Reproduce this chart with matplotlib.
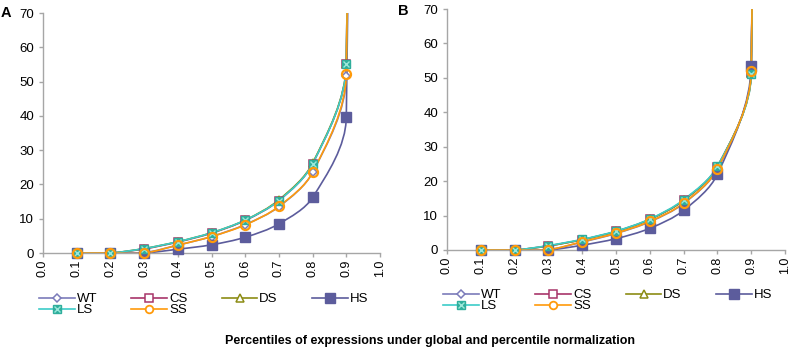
import numpy as np
import matplotlib
matplotlib.use("Agg")
import matplotlib.pyplot as plt
from matplotlib.path import Path
from matplotlib.patches import PathPatch
from matplotlib.lines import Line2D
from matplotlib.legend_handler import HandlerTuple

# percentiles (last point is far above the 0-70 window)
pct = [0.1, 0.2, 0.3, 0.4, 0.5, 0.6, 0.7, 0.8, 0.9, 1.0]

# panel A - global normalization
a_wt = [0, 0, 0.1, 2.3, 4.8, 8.3, 13.5, 23.5, 51.5, 1500]
a_cs = [0, 0, 1.2, 3.2, 5.8, 9.5, 15.3, 26.0, 55.0, 1500]
a_ds = [0, 0, 1.3, 3.3, 5.9, 9.6, 15.5, 26.2, 55.2, 1500]
a_hs = [0, 0, 0.0, 1.1, 2.4, 4.6, 8.5, 16.2, 39.6, 1500]
a_ls = [0, 0, 1.3, 3.3, 5.9, 9.6, 15.3, 26.0, 55.0, 1500]
a_ss = [0, 0, 0.0, 2.3, 4.8, 8.2, 13.6, 23.5, 52.2, 1500]

# panel B - percentile normalization
b_wt = [0, 0, 0.1, 2.3, 4.8, 8.2, 13.5, 23.5, 51.8, 1500]
b_cs = [0, 0, 1.2, 3.0, 5.4, 8.9, 14.4, 24.2, 51.5, 1500]
b_ds = [0, 0, 1.2, 3.0, 5.4, 8.9, 14.4, 24.2, 51.3, 1500]
b_hs = [0, 0, 0.0, 1.4, 3.3, 6.3, 11.5, 22.0, 53.5, 1500]
b_ls = [0, 0, 1.3, 3.1, 5.5, 9.0, 14.6, 24.3, 51.0, 1500]
b_ss = [0, 0, 0.1, 2.4, 4.9, 8.3, 13.6, 23.6, 51.9, 1500]

names = ["WT", "CS", "DS", "HS", "LS", "SS"]
colors = {"WT": "#7B7BBA", "CS": "#A8356A", "DS": "#8C8C14",
          "HS": "#5C5C9C", "LS": "#3CCCC8", "SS": "#FF9A0A"}
ls_fill = "#2FAE9C"
ls_x = "#9BE8DA"

plt.rcParams['font.family'] = ['Liberation Sans', 'DejaVu Sans']

W, H, DPI = 7.93, 3.52, 100
fig = plt.figure(figsize=(W, H), dpi=DPI)
axA = fig.add_axes([43/793, 99/352, 337/793, 240/352])
axB = fig.add_axes([447/793, 102/352, 338/793, 241/352])


def smooth_path(ax, xs, ys, f=1/3.):
    # excel style smoothed line, control points worked out in pixel space
    bb = ax.get_position()
    sx = bb.width * W * DPI / 1.0
    sy = bb.height * H * DPI / 70.0
    P = np.column_stack([np.array(xs) * sx, np.array(ys) * sy])
    n = len(P)
    verts = [P[0]]
    codes = [Path.MOVETO]
    for i in range(n - 1):
        pp = P[i - 1] if i > 0 else P[i]
        pn = P[i + 2] if i + 2 < n else P[i + 1]
        d = np.linalg.norm(P[i + 1] - P[i])
        dp = np.linalg.norm(P[i] - pp)
        dn = np.linalg.norm(pn - P[i + 1])
        c1 = P[i] + f * (P[i + 1] - pp) * d / (dp + d)
        c2 = P[i + 1] - f * (pn - P[i]) * d / (d + dn)
        verts += [c1, c2, P[i + 1]]
        codes += [Path.CURVE4] * 3
    verts = np.array(verts) / [sx, sy]
    return Path(verts, codes)


def marker_style(nm):
    c = colors[nm]
    if nm == "WT":
        return dict(marker='D', ms=4.5, mfc='white', mec=c, mew=1.1)
    if nm == "CS":
        return dict(marker='s', ms=5.5, mfc='white', mec=c, mew=1.1)
    if nm == "DS":
        return dict(marker='^', ms=6, mfc='white', mec=c, mew=1.1)
    if nm == "HS":
        return dict(marker='s', ms=6.5, mfc=c, mec=c)
    if nm == "LS":
        return dict(marker='s', ms=6, mfc=ls_fill, mec=ls_fill)
    return dict(marker='o', ms=6.5, mfc='none', mec=c, mew=1.6)


def draw_panel(ax, series):
    ax.set_xlim(0, 1.0)
    ax.set_ylim(0, 70)
    for nm in names:
        ax.add_patch(PathPatch(smooth_path(ax, pct, series[nm]), fc='none',
                               ec=colors[nm], lw=1.2, zorder=2))
    for nm in names:
        ys = series[nm][:-1]
        xs = pct[:-1]
        ax.plot(xs, ys, ls='none', clip_on=False, zorder=3, **marker_style(nm))
        if nm == "LS":
            ax.plot(xs, ys, ls='none', marker='x', ms=4.5, mec=ls_x, mew=1.0, clip_on=False, zorder=3)

    ax.set_xticks(np.arange(0, 1.01, 0.1))
    ax.set_xticklabels(["%.1f" % v for v in np.arange(0, 1.01, 0.1)], rotation=90)
    ax.set_yticks(range(0, 71, 10))
    for s in ["top", "right"]:
        ax.spines[s].set_visible(False)
    for s in ["left", "bottom"]:
        ax.spines[s].set_color("#A6A6A6")
        ax.spines[s].set_linewidth(1.0)
    ax.tick_params(axis='both', colors="#A6A6A6", length=3, width=1.0, labelcolor='black')
    ax.tick_params(axis='y', labelsize=9.5)
    ax.tick_params(axis='x', labelsize=9, pad=2)


draw_panel(axA, dict(zip(names, [a_wt, a_cs, a_ds, a_hs, a_ls, a_ss])))
draw_panel(axB, dict(zip(names, [b_wt, b_cs, b_ds, b_hs, b_ls, b_ss])))


def legend_handles():
    h = {}
    for nm in names:
        st = marker_style(nm)
        if nm == "SS":
            st = dict(marker='o', ms=5.5, mfc='white', mec=colors[nm], mew=1.3)
        h[nm] = Line2D([], [], color=colors[nm], lw=1.2, **st)
    h["LS"] = (h["LS"], Line2D([], [], ls='none', marker='x', ms=4.5, mec=ls_x, mew=1.0))
    return h


order = ["WT", "LS", "CS", "SS", "DS", "HS"]
for ax, x0, y0 in [(axA, 39/793, 1 - 293/352), (axB, 443/793, 1 - 289/352)]:
    hd = legend_handles()
    ax.legend([hd[k] for k in order], order, ncol=4, loc='upper left',
              bbox_to_anchor=(x0, y0), bbox_transform=fig.transFigure,
              frameon=False, borderpad=0, borderaxespad=0,
              handlelength=2.7, handletextpad=0.15, columnspacing=2.6,
              labelspacing=-0.1, fontsize=9.5,
              handler_map={tuple: HandlerTuple(ndivide=1)})

fig.text(430/793, 1 - 341/352, "Percentiles of expressions under global and percentile normalization",
         ha='center', va='center', fontsize=9, fontweight='bold')
fig.text(1/793, 1 - 13/352, "A", ha='left', va='center', fontsize=10.5, fontweight='bold')
fig.text(398/793, 1 - 11/352, "B", ha='left', va='center', fontsize=10.5, fontweight='bold')

fig.savefig("out.png", dpi=DPI)
